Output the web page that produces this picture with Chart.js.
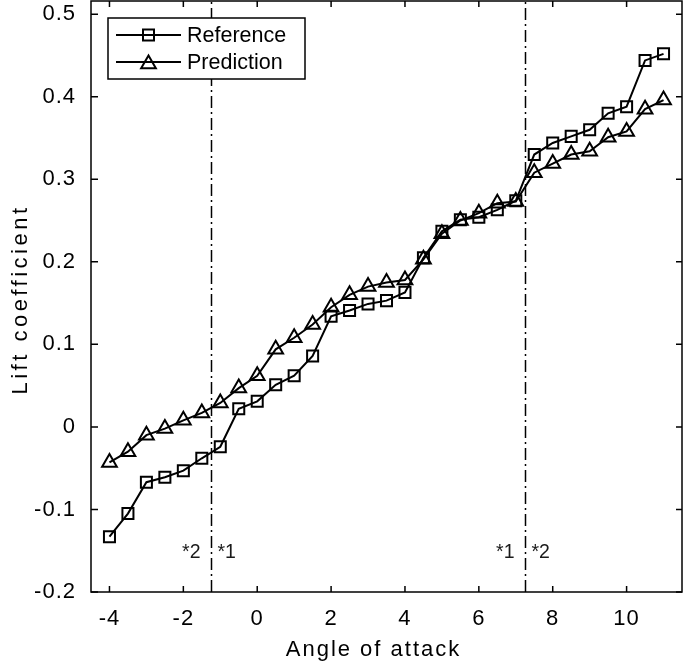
<!DOCTYPE html>
<html>
<head>
<meta charset="utf-8">
<script src="https://cdn.jsdelivr.net/npm/chart.js@4/dist/chart.umd.min.js"></script>
<style>
  html, body { margin: 0; padding: 0; background: #fff; }
  #wrap { width: 685px; height: 667px; }
</style>
</head>
<body>
<div id="wrap"><canvas id="c" width="685" height="667"></canvas></div>
<script>
// ---- data ----
const angles = [-4, -3.5, -3, -2.5, -2, -1.5, -1, -0.5, 0, 0.5, 1, 1.5, 2, 2.5, 3, 3.5,
                4, 4.5, 5, 5.5, 6, 6.5, 7, 7.5, 8, 8.5, 9, 9.5, 10, 10.5, 11];
const referenceCl = [-0.133, -0.105, -0.067, -0.061, -0.053, -0.038, -0.024, 0.022, 0.031, 0.051,
                     0.062, 0.086, 0.134, 0.141, 0.149, 0.153, 0.163, 0.205, 0.237, 0.251,
                     0.254, 0.263, 0.274, 0.330, 0.344, 0.352, 0.360, 0.380, 0.388, 0.444, 0.452];
const predictionCl = [-0.043, -0.030, -0.010, -0.002, 0.008, 0.017, 0.029, 0.047, 0.062, 0.094,
                      0.108, 0.124, 0.145, 0.160, 0.170, 0.175, 0.178, 0.203, 0.234, 0.250,
                      0.259, 0.271, 0.273, 0.308, 0.319, 0.330, 0.334, 0.351, 0.358, 0.385, 0.396];
const seriesNames = ['Reference', 'Prediction'];
const xTickValues = [-4, -2, 0, 2, 4, 6, 8, 10];
const xTickLabels = ['-4', '-2', '0', '2', '4', '6', '8', '10'];
const yTickValues = [-0.2, -0.1, 0, 0.1, 0.2, 0.3, 0.4, 0.5];
const yTickLabels = ['-0.2', '-0.1', '0', '0.1', '0.2', '0.3', '0.4', '0.5'];
const regionLines = [-1.25, 7.25];
const regionLabels = [['*2', '*1'], ['*1', '*2']];
const regionLabelY = -0.152;
const xTitle = 'Angle of attack';
const yTitle = 'Lift coefficient';

const FONT = '"Liberation Sans", Arial, Helvetica, sans-serif';

function drawMarker(ctx, style, x, y) {
  ctx.beginPath();
  if (style === 'rect') {
    const h = 5.5;
    ctx.rect(x - h, y - h, 2 * h, 2 * h);
  } else {
    const r = 8.5;
    for (let k = 0; k < 3; k++) {
      const a = k * 2 * Math.PI / 3;
      const px = x + Math.sin(a) * r, py = y - Math.cos(a) * r;
      if (k === 0) ctx.moveTo(px, py); else ctx.lineTo(px, py);
    }
    ctx.closePath();
  }
  ctx.stroke();
}

const framePlugin = {
  id: 'frame',
  beforeDraw(chart) {
    chart.ctx.letterSpacing = '1px';
    const patch = (scale, spacing, dx, dy) => {
      if (scale.__patched) return;
      const orig = scale.drawTitle;
      scale.drawTitle = function () {
        const c = this.ctx;
        c.save();
        c.letterSpacing = spacing;
        c.translate(dx, dy);
        orig.call(this);
        c.restore();
      };
      scale.__patched = true;
    };
    patch(chart.scales.x, '2px', -13, 0);
    patch(chart.scales.y, '3.5px', 0, 3);
  },
  beforeDatasetsDraw(chart) {
    const {ctx, chartArea: a, scales: {x, y}} = chart;
    ctx.save();
    ctx.letterSpacing = '0px';
    ctx.strokeStyle = '#000';
    ctx.lineWidth = 1.5;
    regionLines.forEach((v, i) => {
      const px = Math.round(x.getPixelForValue(v)) + 0.5;
      ctx.setLineDash([12, 4, 2, 4]);
      ctx.beginPath();
      ctx.moveTo(px, a.bottom);
      ctx.lineTo(px, a.top);
      ctx.stroke();
      ctx.fillStyle = '#1a1a1a';
      ctx.font = '19.5px ' + FONT;
      ctx.textBaseline = 'middle';
      const py = y.getPixelForValue(regionLabelY);
      ctx.textAlign = 'right';
      ctx.fillText(regionLabels[i][0], px - 11, py);
      ctx.textAlign = 'left';
      ctx.fillText(regionLabels[i][1], px + 6, py);
    });
    ctx.restore();
  },
  afterDatasetsDraw(chart) {
    const {ctx, chartArea: a, scales: {x, y}} = chart;
    ctx.save();
    ctx.letterSpacing = '0px';
    ctx.strokeStyle = '#000';
    ctx.lineWidth = 1.5;
    ctx.setLineDash([]);
    ctx.strokeRect(a.left, a.top, a.right - a.left, a.bottom - a.top);
    ctx.beginPath();
    xTickValues.forEach(v => {
      const px = x.getPixelForValue(v);
      ctx.moveTo(px, a.bottom); ctx.lineTo(px, a.bottom - 6);
      ctx.moveTo(px, a.top); ctx.lineTo(px, a.top + 6);
    });
    yTickValues.forEach(v => {
      const py = y.getPixelForValue(v);
      ctx.moveTo(a.left, py); ctx.lineTo(a.left + 7, py);
      ctx.moveTo(a.right, py); ctx.lineTo(a.right - 6, py);
    });
    ctx.stroke();

    // legend box
    const bx = a.left + 17, by = a.top + 17, bw = 197, bh = 61;
    ctx.fillStyle = '#fff';
    ctx.fillRect(bx, by, bw, bh);
    ctx.lineWidth = 1.5;
    ctx.strokeRect(bx, by, bw, bh);
    const styles = ['rect', 'triangle'];
    chart.data.datasets.forEach((ds, i) => {
      const cy = by + 17 + i * 27;
      ctx.lineWidth = 2;
      ctx.beginPath();
      ctx.moveTo(bx + 8, cy); ctx.lineTo(bx + 73, cy);
      ctx.stroke();
      drawMarker(ctx, styles[i], bx + 40.5, cy + (i === 1 ? 2 : 0));
      ctx.fillStyle = '#000';
      ctx.font = '21.5px ' + FONT;
      ctx.textAlign = 'left';
      ctx.textBaseline = 'middle';
      ctx.fillText(ds.label, bx + 79, cy + 1);
    });
    ctx.restore();
  }
};

const toPts = vals => angles.map((a, i) => ({x: a, y: vals[i]}));

new Chart(document.getElementById('c'), {
  type: 'line',
  data: {
    datasets: [
      {
        label: seriesNames[0],
        data: toPts(referenceCl),
        borderColor: '#000',
        borderWidth: 2,
        pointStyle: 'rect',
        pointRadius: 7.8,
        pointBorderWidth: 2,
        pointBorderColor: '#000',
        pointBackgroundColor: 'rgba(0,0,0,0)',
        tension: 0,
        clip: false
      },
      {
        label: seriesNames[1],
        data: toPts(predictionCl),
        borderColor: '#000',
        borderWidth: 2,
        pointStyle: 'triangle',
        pointRadius: 8.5,
        pointBorderWidth: 2,
        pointBorderColor: '#000',
        pointBackgroundColor: 'rgba(0,0,0,0)',
        tension: 0,
        clip: false
      }
    ]
  },
  options: {
    responsive: false,
    animation: false,
    events: [],
    layout: { autoPadding: false, padding: { top: 1, right: 3, left: 0, bottom: 0 } },
    plugins: { legend: { display: false }, tooltip: { enabled: false } },
    scales: {
      x: {
        type: 'linear',
        min: -4.5,
        max: 11.5,
        afterBuildTicks: s => { s.ticks = xTickValues.map(v => ({value: v})); },
        afterFit: s => { s.height = 75; s.paddingLeft = 0; s.paddingRight = 0; },
        grid: { display: false, drawTicks: false },
        border: { display: false },
        ticks: {
          padding: 14,
          color: '#000',
          font: { family: FONT, size: 22 },
          maxRotation: 0,
          callback: v => xTickLabels[xTickValues.indexOf(v)]
        },
        title: {
          display: true,
          text: xTitle,
          color: '#000',
          font: { family: FONT, size: 22 },
          padding: { top: 0, bottom: 4 }
        }
      },
      y: {
        type: 'linear',
        min: -0.2,
        max: 0.516,
        afterBuildTicks: s => { s.ticks = yTickValues.map(v => ({value: v})); },
        afterFit: s => { s.width = 91; s.paddingTop = 0; s.paddingBottom = 0; },
        grid: { display: false, drawTicks: false },
        border: { display: false },
        ticks: {
          padding: 15,
          color: '#000',
          font: { family: FONT, size: 22 },
          callback: v => yTickLabels[yTickValues.indexOf(v)]
        },
        title: {
          display: true,
          text: yTitle,
          color: '#000',
          font: { family: FONT, size: 22 },
          padding: { top: 8, bottom: 0 }
        }
      }
    }
  },
  plugins: [framePlugin]
});
</script>
</body>
</html>
